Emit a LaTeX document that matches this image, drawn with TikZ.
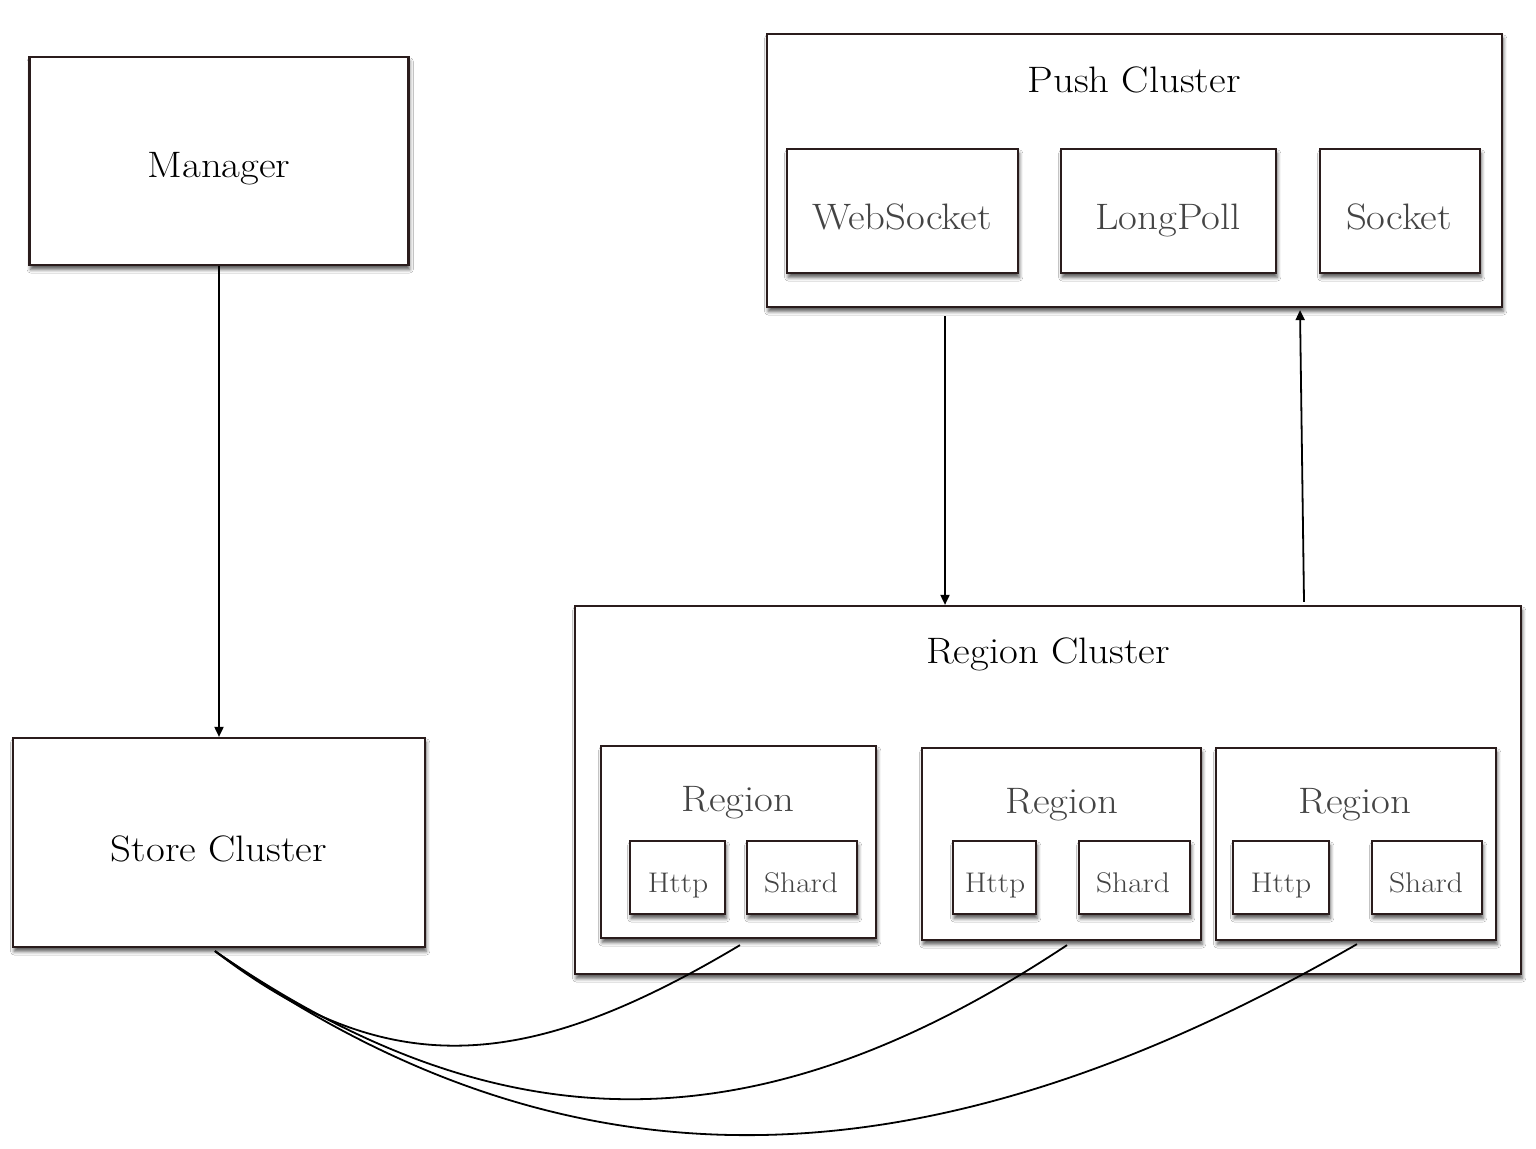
\documentclass[tikz,border=0pt]{standalone}
\usepackage{fontspec}
\setmainfont{Latin Modern Roman}[FakeStretch=1.11]
\usetikzlibrary{shadows,shadows.blur,arrows.meta}
\definecolor{edgec}{RGB}{42,28,28}
\definecolor{txtgray}{RGB}{68,68,68}
\tikzset{
  box/.style={draw=edgec, line width=1.1pt, fill=white, rectangle, inner sep=0pt,
    blur shadow={shadow xshift=0.6pt, shadow yshift=-2.2pt, shadow blur radius=1.8pt, shadow opacity=65}},
  bigtxt/.style={font=\fontsize{18.4}{20}\selectfont, text=black, anchor=base, inner sep=0pt},
  midtxt/.style={font=\fontsize{18.4}{20}\selectfont, text=txtgray, anchor=base, inner sep=0pt},
  smalltxt/.style={font=\fontsize{14.2}{16}\selectfont, text=txtgray, anchor=base, inner sep=0pt},
  conn/.style={line width=0.9pt, -{Triangle[length=5pt,width=4.5pt]}},
  curvy/.style={line width=0.9pt},
}
\begin{document}
\begin{tikzpicture}[x=0.5pt,y=-0.5pt]
\useasboundingbox[fill=white] (0,0) rectangle (1536,1148);

% Manager and Store
\node[box, minimum width=189.5pt, minimum height=104pt] (man) at (219,161) {};
\node[bigtxt] (mant) at (219,177) {Manager};
\node[box, minimum width=206pt, minimum height=104.5pt] (store) at (219,842.5) {};
\node[bigtxt] (storet) at (219,861) {Store Cluster};

% Push cluster
\node[box, minimum width=367.5pt, minimum height=136.5pt] (push) at (1134.5,170.5) {};
\node[bigtxt] (pusht) at (1134,92) {Push Cluster};
\node[box, minimum width=115.5pt, minimum height=62pt] (ws) at (902.5,211) {};
\node[midtxt] (wst) at (902,229) {WebSocket};
\node[box, minimum width=107.5pt, minimum height=62pt] (lp) at (1168.5,211) {};
\node[midtxt] (lpt) at (1168,229) {LongPoll};
\node[box, minimum width=80pt, minimum height=62pt] (so) at (1400,211) {};
\node[midtxt] (sot) at (1399,229) {Socket};

% Region cluster
\node[box, minimum width=473pt, minimum height=184pt] (region) at (1048,790) {};
\node[bigtxt] (regiont) at (1048,663) {Region Cluster};

\node[box, minimum width=137.5pt, minimum height=96pt] (r1) at (738.5,842) {};
\node[midtxt] (r1t) at (738,811) {Region};
\node[box, minimum width=47.5pt, minimum height=36.5pt] (h1) at (677.5,877.5) {};
\node[smalltxt] (h1t) at (678,892) {Http};
\node[box, minimum width=55pt, minimum height=36.5pt] (s1) at (802,877.5) {};
\node[smalltxt] (s1t) at (801,892) {Shard};

\node[box, minimum width=139.5pt, minimum height=96pt] (r2) at (1061.5,844) {};
\node[midtxt] (r2t) at (1062,813) {Region};
\node[box, minimum width=41.5pt, minimum height=36.5pt] (h2) at (994.5,877.5) {};
\node[smalltxt] (h2t) at (995,892) {Http};
\node[box, minimum width=55.5pt, minimum height=36.5pt] (s2) at (1134.5,877.5) {};
\node[smalltxt] (s2t) at (1133,892) {Shard};

\node[box, minimum width=140pt, minimum height=96pt] (r3) at (1356,844) {};
\node[midtxt] (r3t) at (1355,813) {Region};
\node[box, minimum width=48pt, minimum height=36.5pt] (h3) at (1281,877.5) {};
\node[smalltxt] (h3t) at (1281,892) {Http};
\node[box, minimum width=55pt, minimum height=36.5pt] (s3) at (1427,877.5) {};
\node[smalltxt] (s3t) at (1426,892) {Shard};

% Arrows
\draw[conn] (man.south) -- (store.north);
\draw[conn] ([xshift=-94.75pt,yshift=-4pt]push.south) -- ([xshift=-51.5pt]region.north);
\draw[conn] ([xshift=128pt,yshift=1.5pt]region.north) -- ([xshift=82.75pt,yshift=-1pt]push.south);

% Curves
\draw[curvy] ([xshift=-2pt,yshift=-1.5pt]store.south) .. controls (390,1085) and (529,1071) .. ([xshift=0.75pt,yshift=-3pt]r1.south);
\draw[curvy] ([xshift=-2pt,yshift=-1.5pt]store.south) .. controls (510,1155) and (767,1144) .. ([xshift=2.75pt,yshift=-2pt]r2.south);
\draw[curvy] ([xshift=-2pt,yshift=-1.5pt]store.south) .. controls (570,1205) and (930,1190) .. ([xshift=0.5pt,yshift=-1.5pt]r3.south);
\end{tikzpicture}
\end{document}
